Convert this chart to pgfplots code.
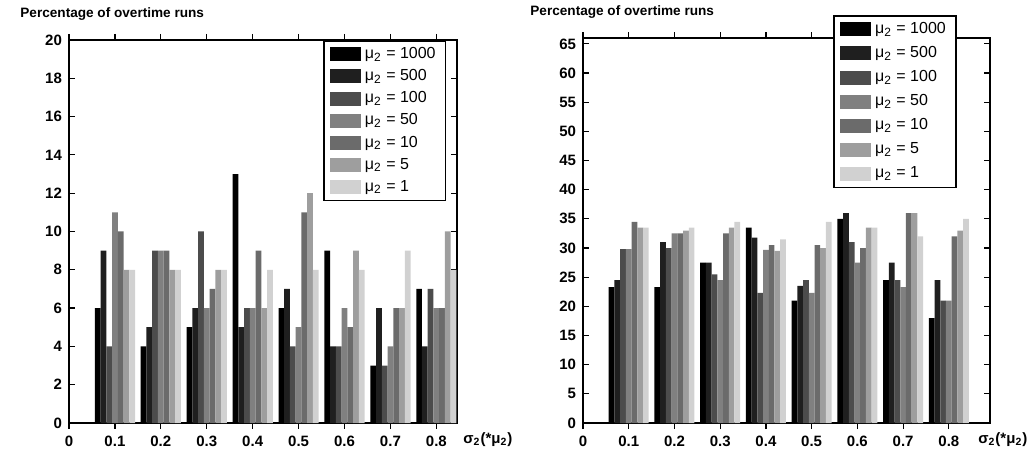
\documentclass[border=0pt]{standalone}
\usepackage{fontspec}
\setmainfont{Liberation Sans}
\usepackage{pgfplots}
\usepackage{pgfplotstable}
\pgfplotsset{compat=1.18}

% grey levels for the seven mean values
\definecolor{cA}{gray}{0.00}
\definecolor{cB}{gray}{0.12}
\definecolor{cC}{gray}{0.30}
\definecolor{cD}{gray}{0.50}
\definecolor{cE}{gray}{0.42}
\definecolor{cF}{gray}{0.62}
\definecolor{cG}{gray}{0.82}

% percentage of overtime runs, left panel
\pgfplotstableread{
x    a   b   c   d   e   f   g
0.1  6   9   4   11  10  8   8
0.2  4   5   9   9   9   8   8
0.3  5   6   10  6   7   8   8
0.4  13  5   6   6   9   6   8
0.5  6   7   4   5   11  12  8
0.6  9   4   4   6   5   9   8
0.7  3   6   3   4   6   6   9
0.8  7   4   7   6   6   10  8
}\leftdata

% percentage of overtime runs, right panel
\pgfplotstableread{
x    a     b     c     d     e     f     g
0.1  23.3  24.5  29.8  29.8  34.5  33.5  33.5
0.2  23.3  31.0  30.0  32.5  32.5  33.0  33.5
0.3  27.5  27.5  25.5  24.5  32.5  33.5  34.5
0.4  33.5  31.8  22.3  29.7  30.5  29.5  31.5
0.5  21.0  23.5  24.5  22.3  30.5  30.0  34.5
0.6  35.0  36.0  31.0  27.5  30.0  33.5  33.5
0.7  24.5  27.5  24.5  23.3  36.0  36.0  32.0
0.8  18.0  24.5  21.0  21.0  32.0  33.0  35.0
}\rightdata

\pgfplotsset{
  panel/.style={
    scale only axis,
    anchor=south west,
    ybar, bar width=0.0125,
    xmin=0,
    ymin=0,
    axis line style={line width=1pt},
    every tick/.style={black, line width=0.6pt},
    major tick length=3pt,
    xtick={0,0.1,0.2,0.3,0.4,0.5,0.6,0.7,0.8},
    xticklabels={0,0.1,0.2,0.3,0.4,0.5,0.6,0.7,0.8},
    /pgf/number format/assume math mode=true,
    tick label style={font=\fontsize{7.5}{9}\selectfont\bfseries},
    xlabel={σ\textsubscript{2}(*μ\textsubscript{2})},
    xlabel style={font=\fontsize{7.5}{9}\selectfont\bfseries, anchor=north west, inner sep=0pt},
    legend cell align=left,
    legend image code/.code={\fill[##1] (0pt,-3.5pt) rectangle (15.5pt,3.5pt);},
  },
  s1/.style={fill=cA, draw=none, bar shift=-0.0375},
  s2/.style={fill=cB, draw=none, bar shift=-0.025},
  s3/.style={fill=cC, draw=none, bar shift=-0.0125},
  s4/.style={fill=cD, draw=none, bar shift=0},
  s5/.style={fill=cE, draw=none, bar shift=0.0125},
  s6/.style={fill=cF, draw=none, bar shift=0.025},
  s7/.style={fill=cG, draw=none, bar shift=0.0375},
}

\begin{document}
\begin{tikzpicture}
\path[use as bounding box] (0,0) rectangle (518pt,235pt);

\begin{axis}[panel,
  at={(34.5pt,23.5pt)}, width=194pt, height=191.5pt,
  xmax=0.845, ymax=20,
  ytick={0,2,...,20},
  xlabel style={at={(rel axis cs:1,0)}, xshift=3pt, yshift=-4.5pt},
  legend style={at={(rel axis cs:0.655,1)}, anchor=north west,
    draw=black, line width=0.8pt, inner xsep=3pt, inner ysep=2pt,
    font=\fontsize{8}{9}\selectfont, row sep=1.6pt,
    nodes={inner ysep=1.2pt}},
]
\addplot[s1] table[x=x,y=a] {\leftdata};
\addplot[s2] table[x=x,y=b] {\leftdata};
\addplot[s3] table[x=x,y=c] {\leftdata};
\addplot[s4] table[x=x,y=d] {\leftdata};
\addplot[s5] table[x=x,y=e] {\leftdata};
\addplot[s6] table[x=x,y=f] {\leftdata};
\addplot[s7] table[x=x,y=g] {\leftdata};
\legend{μ\textsubscript{2} = 1000, μ\textsubscript{2} = 500, μ\textsubscript{2} = 100,
        μ\textsubscript{2} = 50, μ\textsubscript{2} = 10, μ\textsubscript{2} = 5, μ\textsubscript{2} = 1}
\end{axis}

\begin{axis}[panel,
  at={(291.5pt,23.5pt)}, width=203.5pt, height=192.5pt,
  xmax=0.89, ymax=66,
  ytick={0,5,...,65},
  xlabel style={at={(rel axis cs:1,0)}, xshift=-6pt, yshift=-4.5pt},
  legend style={at={(rel axis cs:0.615,1.06)}, anchor=north west,
    draw=black, line width=0.8pt, inner xsep=3pt, inner ysep=2pt,
    font=\fontsize{8}{9}\selectfont, row sep=2.6pt,
    nodes={inner ysep=1.2pt}},
]
\addplot[s1] table[x=x,y=a] {\rightdata};
\addplot[s2] table[x=x,y=b] {\rightdata};
\addplot[s3] table[x=x,y=c] {\rightdata};
\addplot[s4] table[x=x,y=d] {\rightdata};
\addplot[s5] table[x=x,y=e] {\rightdata};
\addplot[s6] table[x=x,y=f] {\rightdata};
\addplot[s7] table[x=x,y=g] {\rightdata};
\legend{μ\textsubscript{2} = 1000, μ\textsubscript{2} = 500, μ\textsubscript{2} = 100,
        μ\textsubscript{2} = 50, μ\textsubscript{2} = 10, μ\textsubscript{2} = 5, μ\textsubscript{2} = 1}
\end{axis}

\node[anchor=base west, inner sep=0pt, font=\fontsize{6.8}{8}\selectfont\bfseries] at (10pt,226pt) {Percentage of overtime runs};
\node[anchor=base west, inner sep=0pt, font=\fontsize{6.8}{8}\selectfont\bfseries] at (265pt,227pt) {Percentage of overtime runs};
\end{tikzpicture}
\end{document}
